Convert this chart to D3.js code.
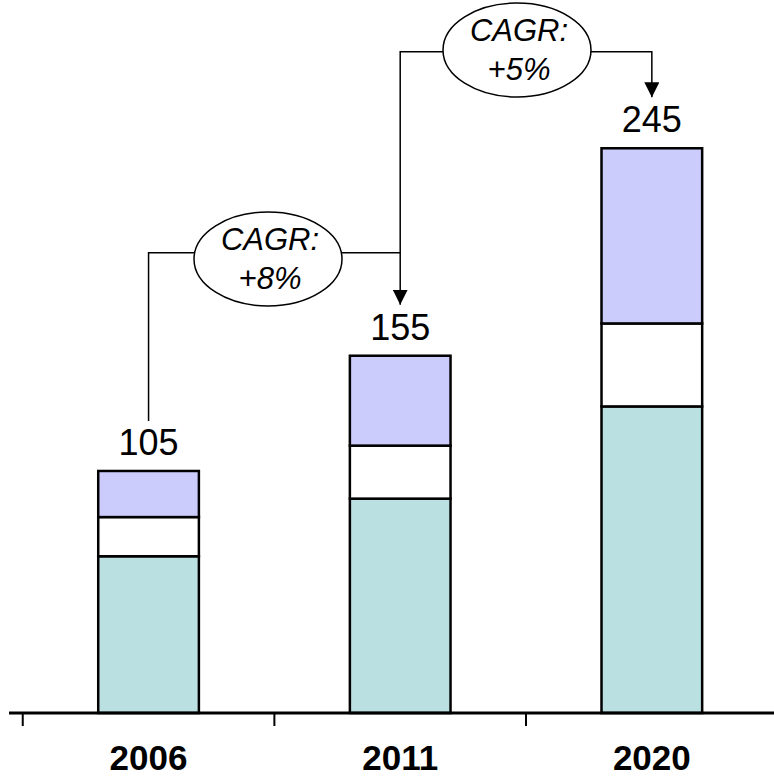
<!DOCTYPE html>
<html>
<head>
<meta charset="utf-8">
<script src="https://cdn.jsdelivr.net/npm/d3@7"></script>
<style>
  body { margin: 0; background: #fff; }
  svg { display: block; font-family: "Liberation Sans", Arial, Helvetica, sans-serif; }
</style>
</head>
<body>
<script>
// chart values
const years = ['2006', '2011', '2020'];
const baseSeg = [68, 93, 133];     // teal, bottom
const midSeg = [17, 23, 36];       // white, middle
const topSeg = [20, 39, 76];       // lavender, top
const totals = [105, 155, 245];
const cagrLabels = ['+8%', '+5%'];

const W = 774, H = 777;
const baseY = 713;

const svg = d3.select('body').append('svg')
  .attr('width', W)
  .attr('height', H);

const rows = years.map((y, i) => ({ year: y, base: baseSeg[i], mid: midSeg[i], top: topSeg[i] }));
const keys = ['base', 'mid', 'top'];
const colors = { base: '#bae0e2', mid: '#ffffff', top: '#ccccfc' };

const xScale = d3.scaleBand()
  .domain(years)
  .range([24, 24 + 3 * 250.8])
  .paddingInner(0.6)
  .paddingOuter(0.295);

const yScale = d3.scaleLinear()
  .domain([0, 245])
  .range([baseY, baseY - 245 * 2.305]);

const stacked = d3.stack().keys(keys)(rows);

// bars
svg.append('g').selectAll('g')
  .data(stacked)
  .enter().append('g')
  .attr('fill', d => colors[d.key])
  .selectAll('rect')
  .data(d => d)
  .enter().append('rect')
  .attr('x', d => xScale(d.data.year))
  .attr('y', d => yScale(d[1]))
  .attr('width', xScale.bandwidth())
  .attr('height', d => yScale(d[0]) - yScale(d[1]))
  .attr('stroke', '#000')
  .attr('stroke-width', 2.5);

// x axis: long line + ticks between bands
const step = xScale.step();
const tickX = years.map(y => xScale(y) + xScale.bandwidth() / 2 - step / 2);

svg.append('line')
  .attr('x1', 9).attr('x2', W)
  .attr('y1', baseY).attr('y2', baseY)
  .attr('stroke', '#000')
  .attr('stroke-width', 3);

svg.selectAll('.tick')
  .data(tickX)
  .enter().append('line')
  .attr('class', 'tick')
  .attr('x1', d => d).attr('x2', d => d)
  .attr('y1', baseY).attr('y2', baseY + 13)
  .attr('stroke', '#000')
  .attr('stroke-width', 2);

svg.selectAll('.year')
  .data(years)
  .enter().append('text')
  .attr('class', 'year')
  .attr('x', d => xScale(d) + xScale.bandwidth() / 2)
  .attr('y', 770)
  .attr('text-anchor', 'middle')
  .attr('font-size', 35)
  .attr('font-weight', 'bold')
  .text(d => d);

// totals above bars
svg.selectAll('.total')
  .data(totals)
  .enter().append('text')
  .attr('class', 'total')
  .attr('x', (d, i) => xScale(years[i]) + xScale.bandwidth() / 2)
  .attr('y', d => yScale(d) - 16)
  .attr('text-anchor', 'middle')
  .attr('font-size', 36)
  .text(d => d);

// CAGR connectors
const cx = i => xScale(years[i]) + xScale.bandwidth() / 2;
const levels = [252.7, 51.7];
const ellipses = [{ cx: 268, cy: 259 }, { cx: 517, cy: 50 }];

svg.append('defs').append('marker')
  .attr('id', 'arrow')
  .attr('viewBox', '0 0 10 10')
  .attr('refX', 10).attr('refY', 5)
  .attr('markerWidth', 15).attr('markerHeight', 15)
  .attr('markerUnits', 'userSpaceOnUse')
  .attr('orient', 'auto')
  .append('path')
  .attr('d', 'M0,0 L10,5 L0,10 Z')
  .attr('fill', '#000');

cagrLabels.forEach((lab, i) => {
  const fromTop = i === 0 ? yScale(totals[0]) - 50 : levels[0];
  const path = d3.path();
  path.moveTo(cx(i), fromTop);
  path.lineTo(cx(i), levels[i]);
  path.lineTo(cx(i + 1), levels[i]);
  path.lineTo(cx(i + 1), yScale(totals[i + 1]) - 51);
  svg.append('path')
    .attr('d', path.toString())
    .attr('fill', 'none')
    .attr('stroke', '#000')
    .attr('stroke-width', 1.5)
    .attr('marker-end', 'url(#arrow)');

  const e = ellipses[i];
  svg.append('ellipse')
    .attr('cx', e.cx).attr('cy', e.cy)
    .attr('rx', 74).attr('ry', 47)
    .attr('fill', '#fff')
    .attr('stroke', '#000')
    .attr('stroke-width', 1.5);

  svg.append('text')
    .attr('x', e.cx + 2).attr('y', e.cy - 9)
    .attr('text-anchor', 'middle')
    .attr('font-size', 31)
    .attr('font-style', 'italic')
    .text('CAGR:');
  svg.append('text')
    .attr('x', e.cx + 2).attr('y', e.cy + 30)
    .attr('text-anchor', 'middle')
    .attr('font-size', 31)
    .attr('font-style', 'italic')
    .text(lab);
});
</script>
</body>
</html>
